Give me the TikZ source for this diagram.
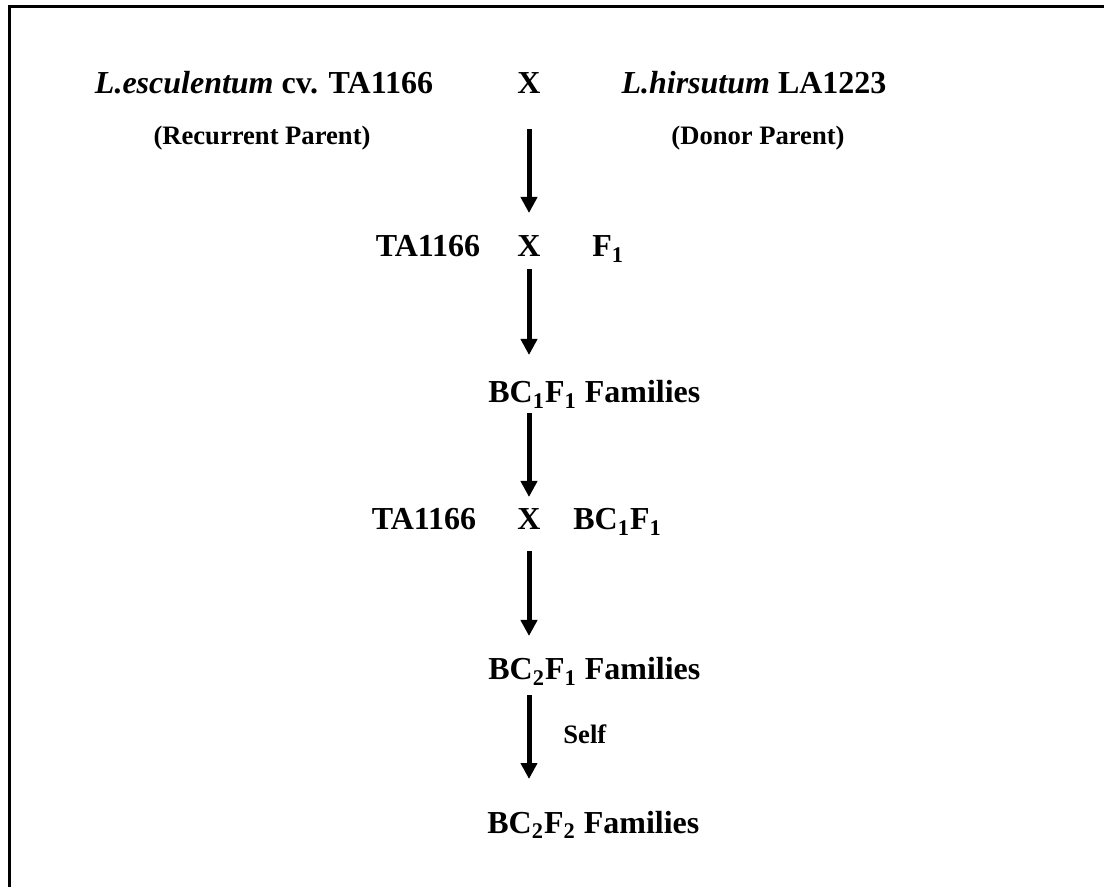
\documentclass[tikz,border=0pt]{standalone}
\usepackage{fontspec}
\setmainfont{Liberation Serif}
\usetikzlibrary{arrows.meta}
\usetikzlibrary{calc}

\begin{document}
\begin{tikzpicture}[x=0.5pt, y=-0.5pt,
    main/.style={inner sep=0pt, font=\fontsize{16}{19}\selectfont\bfseries},
    lab/.style={inner sep=0pt, font=\fontsize{13.3}{16}\selectfont\bfseries},
    flow/.style={line width=2.5pt, -{Triangle[width=8pt, length=8pt]}}]
      \useasboundingbox (0,0) rectangle (1104,887);
      \draw[line width=1.5pt, line join=miter] (9,887) -- (9,6.5) -- (1104,6.5);

      % parents
      \node[main, anchor=base] (esc) at (264,94) {\textit{L.esculentum} cv. TA1166};
      \node[main, anchor=base] (xa) at (529,94) {X};
      \node[main, anchor=base] (hir) at (754,94) {\textit{L.hirsutum} LA1223};
      \node[lab, anchor=base] (rec) at (262,145) {(Recurrent Parent)};
      \node[lab, anchor=base] (don) at (758,145) {(Donor Parent)};

      % first backcross
      \node[main, anchor=base] (ta1) at (428,257) {TA1166};
      \node[main, anchor=base] (xb) at (529,257) {X};
      \node[main, anchor=base west] (f1) at (592,257) {F\textsubscript{1}};
      \node[main, anchor=base west] (bc1) at (488,403) {BC\textsubscript{1}F\textsubscript{1} Families};

      % second backcross
      \node[main, anchor=base] (ta2) at (424,530) {TA1166};
      \node[main, anchor=base] (xc) at (529,530) {X};
      \node[main, anchor=base west] (bcf) at (573,530) {BC\textsubscript{1}F\textsubscript{1}};
      \node[main, anchor=base west] (bc2) at (488,680) {BC\textsubscript{2}F\textsubscript{1} Families};
      \node[lab, anchor=base west] (self) at (563,743) {Self};
      \node[main, anchor=base west] (bc3) at (487,833) {BC\textsubscript{2}F\textsubscript{2} Families};

      \draw[flow] ($(xa.base)+(0,35)$) -- ($(xb.base)+(0,-44)$);
      \draw[flow] ($(xb.base)+(0,12)$) -- ($(xb.base |- bc1.base)+(0,-48)$);
      \draw[flow] ($(xc.base |- bc1.base)+(0,10)$) -- ($(xc.base)+(0,-33)$);
      \draw[flow] ($(xc.base)+(0,21)$) -- ($(xc.base |- bc2.base)+(0,-44)$);
      \draw[flow] ($(xc.base |- bc2.base)+(0,15)$) -- ($(xc.base |- bc3.base)+(0,-54)$);
    \end{tikzpicture}
\end{document}
